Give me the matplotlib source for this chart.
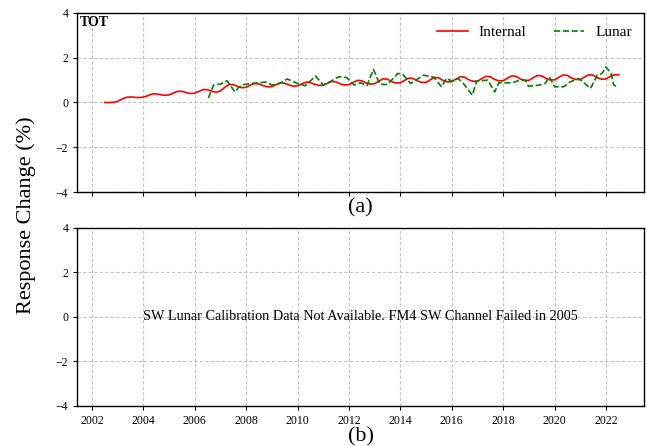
import numpy as np
import matplotlib
matplotlib.use("Agg")
import matplotlib.pyplot as plt

plt.rcParams["font.family"] = ["Liberation Serif", "DejaVu Serif"]

# ---------------------------------------------------------------------------
# data
# ---------------------------------------------------------------------------

# internal calibration, bimonthly from 2002.5
internal_start = 2002.5
internal_step = 1.0 / 6.0
internal_value = [
    0.00, 0.00, 0.01,
    0.05, 0.15, 0.23, 0.25, 0.23, 0.22,
    0.24, 0.30, 0.38, 0.39, 0.35, 0.32,
    0.34, 0.42, 0.50, 0.50, 0.44, 0.40,
    0.42, 0.50, 0.58, 0.57, 0.50, 0.46,
    0.52, 0.68, 0.80, 0.80, 0.72, 0.66,
    0.68, 0.78, 0.85, 0.83, 0.75, 0.70,
    0.71, 0.80, 0.88, 0.86, 0.78, 0.73,
    0.75, 0.83, 0.91, 0.89, 0.81, 0.76,
    0.77, 0.86, 0.94, 0.92, 0.83, 0.78,
    0.80, 0.90, 0.99, 0.97, 0.87, 0.82,
    0.84, 0.96, 1.06, 1.04, 0.93, 0.87,
    0.88, 0.99, 1.09, 1.07, 0.96, 0.90,
    0.90, 1.02, 1.12, 1.10, 0.98, 0.92,
    0.93, 1.05, 1.15, 1.13, 1.01, 0.95,
    0.95, 1.07, 1.17, 1.15, 1.03, 0.97,
    0.97, 1.09, 1.19, 1.17, 1.05, 0.99,
    0.99, 1.11, 1.21, 1.19, 1.07, 1.01,
    1.01, 1.13, 1.23, 1.21, 1.09, 1.03,
    1.02, 1.14, 1.24, 1.22, 1.10, 1.04,
    1.05, 1.17, 1.24, 1.24,
]

lunar_year = [
    2006.53, 2006.73, 2007.00, 2007.25, 2007.57, 2007.70, 2007.90,
    2008.20, 2008.48, 2008.80, 2009.00, 2009.30, 2009.60, 2010.00,
    2010.30, 2010.70, 2011.00, 2011.30, 2011.60, 2011.90, 2012.20,
    2012.45, 2012.70, 2012.95, 2013.20, 2013.50, 2013.90, 2014.10,
    2014.40, 2014.90, 2015.30, 2015.60, 2015.80, 2016.00, 2016.25,
    2016.45, 2016.80, 2016.97, 2017.40, 2017.67, 2017.83, 2018.35,
    2018.55, 2018.86, 2018.98, 2019.37, 2019.63, 2019.80, 2020.00,
    2020.35, 2020.60, 2020.95, 2021.40, 2021.66, 2021.85, 2022.00,
    2022.20, 2022.30, 2022.45,
]
lunar_value = [
    0.20, 0.78, 0.82, 0.97, 0.47, 0.67, 0.80,
    0.85, 0.88, 0.92, 0.78, 0.85, 1.05, 0.85,
    0.75, 1.18, 0.78, 0.95, 1.15, 1.12, 0.78,
    0.88, 0.75, 1.48, 0.82, 0.80, 1.30, 1.25,
    0.85, 1.22, 1.13, 0.70, 1.08, 0.95, 1.07,
    0.85, 0.33, 0.96, 1.00, 0.47, 0.88, 0.88,
    0.96, 1.00, 0.73, 0.77, 0.85, 1.14, 0.70,
    0.70, 0.92, 1.07, 0.63, 1.22, 1.30, 1.59,
    1.30, 0.78, 0.70,
]

year_ticks = [2002, 2004, 2006, 2008, 2010, 2012, 2014, 2016, 2018, 2020, 2022]
resp_ticks = [-4, -2, 0, 2, 4]

internal_year = internal_start + internal_step * np.arange(len(internal_value))

# ---------------------------------------------------------------------------
# figure
# ---------------------------------------------------------------------------

fig = plt.figure(figsize=(6.47, 4.46), dpi=100)
ax_a = fig.add_axes([0.1195, 0.5695, 0.8759, 0.4014])
ax_b = fig.add_axes([0.1195, 0.0897, 0.8759, 0.3991])

for ax in (ax_a, ax_b):
    ax.set_xlim(2001.43, 2023.48)
    ax.set_ylim(-4, 4)
    ax.set_xticks(year_ticks)
    ax.set_yticks(resp_ticks)
    ax.grid(True, color="#c4c4c4", ls=(0, (3, 2)), lw=0.8)
    ax.tick_params(labelsize=8.5, length=3, width=0.8)
    for s in ax.spines.values():
        s.set_linewidth(1.0)

ax_a.tick_params(labelbottom=False)

ax_a.plot(internal_year, internal_value, color="red", lw=1.2, label="Internal")
ax_a.plot(lunar_year, lunar_value, color="green", lw=1.2, ls="--", label="Lunar")
ax_a.text(0.005, 0.985, "TOT", transform=ax_a.transAxes, fontsize=10,
          fontweight="bold", ha="left", va="top")
ax_a.legend(loc="upper right", ncol=2, frameon=False, fontsize=11,
            handlelength=2.0, handletextpad=0.7, columnspacing=1.8,
            borderaxespad=0.4)

ax_b.text(0.5, 0.5,
          "SW Lunar Calibration Data Not Available. FM4 SW Channel Failed in 2005",
          transform=ax_b.transAxes, fontsize=10.3, ha="center", va="center")

fig.text(0.5575, 0.533, "(a)", fontsize=16, ha="center", va="center")
fig.text(0.5575, 0.020, "(b)", fontsize=16, ha="center", va="center")
fig.text(0.040, 0.518, "Response Change (%)", fontsize=16, rotation=90,
         ha="center", va="center")

fig.savefig("out.png", dpi=100)
plt.close(fig)
